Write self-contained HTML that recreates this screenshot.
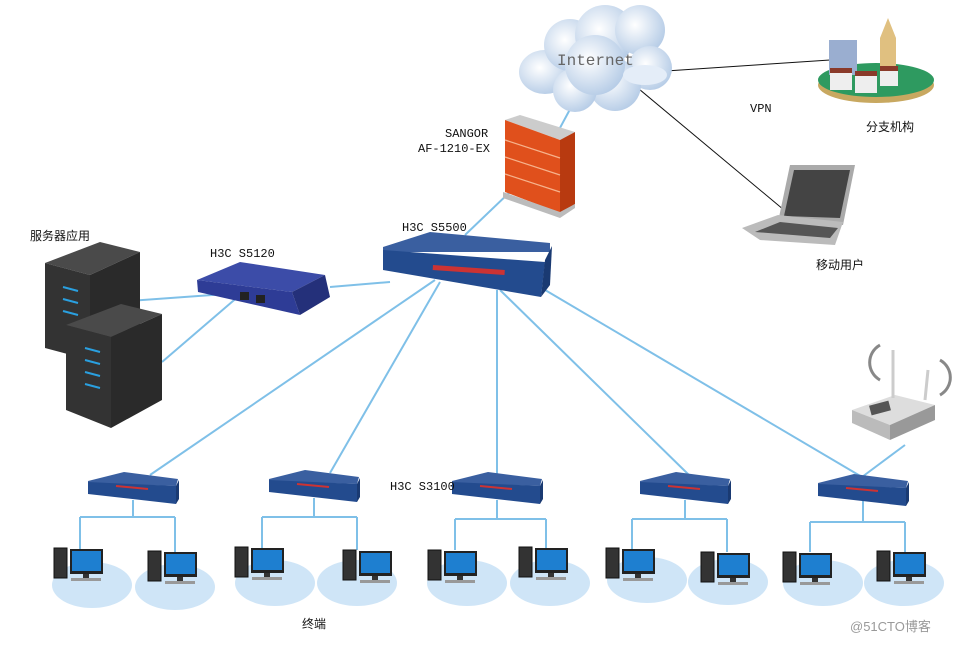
<!DOCTYPE html>
<html><head><meta charset="utf-8"><style>
body{margin:0;background:#fff}
svg{display:block}
text{font-family:"Liberation Mono","Noto Sans CJK SC",monospace;font-size:12px;fill:#111}
.cn{font-family:"Liberation Sans","Noto Sans CJK SC",sans-serif;font-size:12px}
</style></head><body>
<svg width="957" height="645" viewBox="0 0 957 645" xmlns="http://www.w3.org/2000/svg">
<defs>
<radialGradient id="cl" cx="40%" cy="40%" r="75%"><stop offset="0" stop-color="#fff"/><stop offset="1" stop-color="#a9c3e2"/></radialGradient>
<g id="sw">
<polygon points="0,9 36,0 90,7 88,14 0,11" fill="#3a5fa0"/>
<polygon points="0,10 88,14 88,32 0,22" fill="#234b8e"/>
<polygon points="88,14 91,8 91,27 88,32" fill="#1a3a72"/>
<line x1="28" y1="14" x2="60" y2="17" stroke="#c33" stroke-width="2"/>
</g>
<g id="pc">
<rect x="0" y="0" width="13" height="30" fill="#333" stroke="#111"/>
<rect x="16" y="1" width="33" height="25" fill="#222"/>
<rect x="18" y="3" width="29" height="20" fill="#1e7fd0"/>
<rect x="29" y="26" width="6" height="4" fill="#333"/>
<rect x="17" y="30" width="30" height="3" fill="#999"/>
</g>
</defs>
<g fill="#cfe5f7">
<ellipse cx="92" cy="585" rx="40" ry="23"/><ellipse cx="175" cy="587" rx="40" ry="23"/>
<ellipse cx="275" cy="583" rx="40" ry="23"/><ellipse cx="357" cy="583" rx="40" ry="23"/>
<ellipse cx="467" cy="583" rx="40" ry="23"/><ellipse cx="550" cy="583" rx="40" ry="23"/>
<ellipse cx="647" cy="580" rx="40" ry="23"/><ellipse cx="728" cy="582" rx="40" ry="23"/>
<ellipse cx="823" cy="583" rx="40" ry="23"/><ellipse cx="904" cy="583" rx="40" ry="23"/>
</g>
<g stroke="#7fc0e8" stroke-width="2" fill="none">
<line x1="575" y1="100" x2="540" y2="165"/>
<line x1="512" y1="190" x2="465" y2="235"/>
<line x1="330" y1="287" x2="390" y2="282"/>
<line x1="115" y1="302" x2="240" y2="293"/>
<line x1="162" y1="362" x2="240" y2="295"/>
<line x1="435" y1="280" x2="150" y2="475"/>
<line x1="440" y1="282" x2="330" y2="473"/>
<line x1="497" y1="290" x2="497" y2="476"/>
<line x1="500" y1="290" x2="690" y2="476"/>
<line x1="540" y1="287" x2="862" y2="477"/>
<line x1="862" y1="477" x2="905" y2="445"/>
<path d="M133,500V517M80,517H175M80,517V550M175,517V552"/>
<path d="M314,498V517M262,517H357M262,517V548M357,517V550"/>
<path d="M497,500V519M455,519H546M455,519V550M546,519V548"/>
<path d="M685,500V519M632,519H727M632,519V550M727,519V552"/>
<path d="M863,500V522M810,522H905M810,522V552M905,522V552"/>
</g>
<g stroke="#111" stroke-width="1"><line x1="636" y1="73" x2="830" y2="60"/><line x1="633" y1="84" x2="790" y2="215"/></g>
<g fill="url(#cl)">
<ellipse cx="545" cy="72" rx="26" ry="22"/><circle cx="570" cy="45" r="26"/><circle cx="605" cy="35" r="30"/><circle cx="640" cy="30" r="25"/><circle cx="650" cy="68" r="22"/><circle cx="615" cy="85" r="26"/><circle cx="575" cy="90" r="22"/><circle cx="595" cy="65" r="30"/>
</g>
<ellipse cx="645" cy="75" rx="22" ry="10" fill="#e4edf8"/>
<text x="557" y="65" style="font-size:16px;fill:#666">Internet</text>
<polygon points="505,120 520,115 575,132 560,140" fill="#ccc"/>
<polygon points="505,120 560,140 560,213 505,192" fill="#e0501c"/>
<polygon points="560,140 575,132 575,204 560,213" fill="#b83a10"/>
<g stroke="#f6b28c" stroke-width="1.2"><line x1="505" y1="140" x2="560" y2="158"/><line x1="505" y1="157" x2="560" y2="175"/><line x1="505" y1="174" x2="560" y2="192"/></g>
<polygon points="503,192 560,212 575,204 575,208 560,218 503,198" fill="#bbb"/>
<text x="445" y="137">SANGOR</text><text x="418" y="152">AF-1210-EX</text>
<polygon points="383,247 430,232 550,243 550,252 383,252" fill="#3a5fa0"/>
<polygon points="383,250 545,262 541,297 383,270" fill="#234b8e"/>
<polygon points="545,260 552,246 550,285 541,297" fill="#1a3a72"/>
<rect x="433" y="265" width="72" height="5" fill="#c33" transform="rotate(4 433 265)"/>
<text x="402" y="231">H3C S5500</text>
<polygon points="197,280 240,262 325,275 292,292" fill="#3c4ca8"/>
<polygon points="197,280 292,292 300,315 198,292" fill="#2e3c96"/>
<polygon points="292,292 325,275 330,297 300,315" fill="#24307a"/>
<rect x="240" y="292" width="9" height="8" fill="#222"/><rect x="256" y="295" width="9" height="8" fill="#222"/>
<text x="210" y="257">H3C S5120</text>
<polygon points="45,263 100,242 140,252 90,275" fill="#4a4a4a"/>
<polygon points="45,263 90,275 90,360 45,348" fill="#333"/>
<polygon points="90,275 140,252 140,335 90,360" fill="#2a2a2a"/>
<g stroke="#2aa0e0" stroke-width="2"><line x1="63" y1="287" x2="78" y2="291"/><line x1="63" y1="299" x2="78" y2="303"/><line x1="63" y1="311" x2="78" y2="315"/></g>
<polygon points="66,325 121,304 162,314 111,337" fill="#4a4a4a"/>
<polygon points="66,325 111,337 111,428 66,410" fill="#333"/>
<polygon points="111,337 162,314 162,400 111,428" fill="#2a2a2a"/>
<g stroke="#2aa0e0" stroke-width="2"><line x1="85" y1="348" x2="100" y2="352"/><line x1="85" y1="360" x2="100" y2="364"/><line x1="85" y1="372" x2="100" y2="376"/><line x1="85" y1="384" x2="100" y2="388"/></g>
<text x="30" y="240" class="cn">服务器应用</text>
<ellipse cx="876" cy="85" rx="58" ry="18" fill="#c8a860"/>
<ellipse cx="876" cy="80" rx="58" ry="17" fill="#2e9a60"/>
<rect x="829" y="40" width="28" height="35" fill="#9aaed0"/>
<rect x="880" y="38" width="16" height="45" fill="#e0c080"/><polygon points="880,38 888,18 896,38" fill="#e0c080"/>
<rect x="830" y="72" width="22" height="18" fill="#eee"/><rect x="855" y="75" width="22" height="18" fill="#eee"/><rect x="880" y="70" width="18" height="16" fill="#eee"/>
<g fill="#8a3a2a"><rect x="830" y="68" width="22" height="5"/><rect x="855" y="71" width="22" height="5"/><rect x="880" y="66" width="18" height="5"/></g>
<text x="750" y="112">VPN</text>
<text x="866" y="131" class="cn">分支机构</text>
<polygon points="790,165 855,165 843,225 778,222" fill="#aaa"/>
<polygon points="794,170 850,170 840,218 784,216" fill="#444"/>
<polygon points="742,228 778,215 843,222 835,245 760,240" fill="#bbb"/>
<polygon points="755,232 780,222 838,228 830,238" fill="#555"/>
<text x="816" y="269" class="cn">移动用户</text>
<polygon points="852,410 895,395 935,405 890,425" fill="#ddd"/>
<polygon points="852,410 890,425 890,440 852,423" fill="#bbb"/>
<polygon points="890,425 935,405 935,420 890,440" fill="#999"/>
<line x1="893" y1="398" x2="893" y2="350" stroke="#ccc" stroke-width="3"/><line x1="925" y1="400" x2="928" y2="370" stroke="#ccc" stroke-width="3"/>
<g fill="none" stroke="#888" stroke-width="3"><path d="M880,345a20,20 0 0 0 0,35"/><path d="M940,360a20,20 0 0 1 0,35"/></g>
<rect x="870" y="403" width="20" height="10" fill="#555" transform="rotate(-15 880 408)"/>
<use href="#sw" x="88" y="472"/><use href="#sw" x="269" y="470"/><use href="#sw" x="452" y="472"/><use href="#sw" x="640" y="472"/><use href="#sw" x="818" y="474"/>
<text x="390" y="490">H3C S3100</text>
<use href="#pc" x="54" y="548"/><use href="#pc" x="148" y="551"/>
<use href="#pc" x="235" y="547"/><use href="#pc" x="343" y="550"/>
<use href="#pc" x="428" y="550"/><use href="#pc" x="519" y="547"/>
<use href="#pc" x="606" y="548"/><use href="#pc" x="701" y="552"/>
<use href="#pc" x="783" y="552"/><use href="#pc" x="877" y="551"/>
<text x="302" y="628" class="cn">终端</text>
<text x="850" y="631" class="cn" style="fill:#999;font-size:13px">@51CTO博客</text>
</svg>
</body></html>
